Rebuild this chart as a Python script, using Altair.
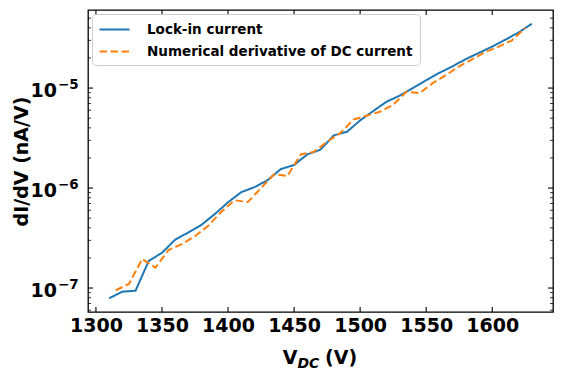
import altair as alt
import numpy as np
import pandas as pd

# ---- data ----
lockin_v = [1310, 1320, 1330, 1340, 1350, 1360, 1370, 1380, 1390, 1400, 1410,
            1420, 1430, 1440, 1450, 1460, 1470, 1480, 1490, 1500, 1510, 1520,
            1530, 1540, 1550, 1560, 1570, 1580, 1590, 1600, 1610, 1620, 1630]
lockin_g = [7.9e-8, 9.2e-8, 9.4e-8, 1.87e-7, 2.25e-7, 3.05e-7, 3.6e-7, 4.3e-7,
            5.5e-7, 7.2e-7, 9.1e-7, 1.02e-6, 1.2e-6, 1.55e-6, 1.7e-6, 2.17e-6,
            2.42e-6, 3.36e-6, 3.65e-6, 4.75e-6, 5.9e-6, 7.3e-6, 8.4e-6, 1.0e-5,
            1.2e-5, 1.42e-5, 1.65e-5, 1.95e-5, 2.25e-5, 2.6e-5, 3.05e-5, 3.6e-5,
            4.4e-5]
deriv_v = [1315, 1325, 1335, 1345, 1355, 1365, 1375, 1385, 1395, 1405, 1415,
           1425, 1435, 1445, 1455, 1465, 1475, 1485, 1495, 1505, 1515, 1525,
           1535, 1545, 1555, 1565, 1575, 1585, 1595, 1605, 1615, 1625]
deriv_g = [9.5e-8, 1.1e-7, 1.95e-7, 1.6e-7, 2.4e-7, 2.75e-7, 3.3e-7, 4.2e-7,
           5.8e-7, 7.55e-7, 7.25e-7, 1.0e-6, 1.38e-6, 1.32e-6, 2.17e-6, 2.3e-6,
           2.9e-6, 3.55e-6, 4.85e-6, 5.3e-6, 5.8e-6, 6.8e-6, 9.2e-6, 8.9e-6,
           1.12e-5, 1.35e-5, 1.65e-5, 1.95e-5, 2.3e-5, 2.6e-5, 3.0e-5, 4.0e-5]
series_names = ["Lock-in current", "Numerical derivative of DC current"]
series_colors = ["#1f77b4", "#ff7f0e"]

x_ticks = [1300, 1350, 1400, 1450, 1500, 1550, 1600]
y_major = [1e-7, 1e-6, 1e-5]
y_major_base = ["10", "10", "10"]
y_major_exp = ["\u22127", "\u22126", "\u22125"]
y_minor = [6e-8, 7e-8, 8e-8, 9e-8,
           2e-7, 3e-7, 4e-7, 5e-7, 6e-7, 7e-7, 8e-7, 9e-7,
           2e-6, 3e-6, 4e-6, 5e-6, 6e-6, 7e-6, 8e-6, 9e-6,
           2e-5, 3e-5, 4e-5, 5e-5]

# ---- tables ----
df = pd.concat([
    pd.DataFrame({"V": lockin_v, "G": lockin_g, "series": series_names[0]}),
    pd.DataFrame({"V": deriv_v, "G": deriv_g, "series": series_names[1]}),
])

W, H = 465, 302
FONT = "DejaVu Sans"

xmin, xmax = min(lockin_v + deriv_v), max(lockin_v + deriv_v)
xm = 0.05 * (xmax - xmin)
x_dom = [xmin - xm, xmax + xm]
lmin, lmax = np.log10(min(lockin_g + deriv_g)), np.log10(max(lockin_g + deriv_g))
lm = 0.05 * (lmax - lmin)
y_dom = [float(10 ** (lmin - lm)), float(10 ** (lmax + lm))]

xs = alt.Scale(domain=x_dom, nice=False, zero=False)
ys = alt.Scale(type="log", domain=y_dom, nice=False)

x_axis = alt.Axis(
    values=x_ticks, title=None, tickSize=0, domain=False, grid=False,
    labelFont=FONT, labelFontSize=19, labelFontWeight="bold",
    labelColor="black", labelPadding=4, format="d")
y_axis = alt.Axis(
    values=y_major, tickSize=0, domain=False, grid=False, labels=False,
    title="dI/dV (nA/V)", titleFont=FONT, titleFontSize=19,
    titleFontWeight="bold", titleColor="black",
    titleX=-67, titleY=H / 2, titleAngle=270, titleAlign="center",
    titleBaseline="middle")

legend = alt.Legend(
    title=None, orient="none", legendX=4, legendY=4,
    symbolType="M-2,0H2", symbolSize=225, symbolStrokeWidth=2,
    symbolOffset=7, labelOffset=24, labelLimit=500,
    labelFont=FONT, labelFontSize=13.5, labelFontWeight="bold", labelColor="black",
    padding=7, rowPadding=7,
    strokeColor="#cccccc", fillColor="rgba(255,255,255,0.8)", cornerRadius=4,
)

lines = alt.Chart(df).mark_line(strokeWidth=2).encode(
    x=alt.X("V:Q", scale=xs, axis=x_axis),
    y=alt.Y("G:Q", scale=ys, axis=y_axis),
    color=alt.Color("series:N", scale=alt.Scale(domain=series_names, range=series_colors), legend=legend),
    strokeDash=alt.StrokeDash("series:N", scale=alt.Scale(domain=series_names, range=[[1, 0], [7.5, 3.5]]), legend=legend),
    order=alt.Order("V:Q"),
)

ymaj = pd.DataFrame({"G": y_major, "base": y_major_base, "exp": y_major_exp})
ymin = pd.DataFrame({"G": y_minor})
xmaj = pd.DataFrame({"V": x_ticks})

def yticks(data, length, width):
    left = alt.Chart(data).mark_rule(color="black", strokeWidth=width).encode(
        y=alt.Y("G:Q", scale=ys, axis=y_axis), x=alt.value(0), x2=alt.value(length))
    right = alt.Chart(data).mark_rule(color="black", strokeWidth=width).encode(
        y=alt.Y("G:Q", scale=ys, axis=y_axis), x=alt.value(W), x2=alt.value(W - length))
    return [left, right]

def xticks(data, length, width):
    bot = alt.Chart(data).mark_rule(color="black", strokeWidth=width).encode(
        x=alt.X("V:Q", scale=xs, axis=x_axis), y=alt.value(H), y2=alt.value(H - length))
    top = alt.Chart(data).mark_rule(color="black", strokeWidth=width).encode(
        x=alt.X("V:Q", scale=xs, axis=x_axis), y=alt.value(0), y2=alt.value(length))
    return [bot, top]

# y tick labels as 10 with a raised exponent
ylab_base = alt.Chart(ymaj).mark_text(
    font=FONT, fontSize=19, fontWeight="bold", color="black",
    align="right", baseline="alphabetic", dy=9).encode(
    y=alt.Y("G:Q", scale=ys, axis=y_axis), x=alt.value(-31), text="base:N")
ylab_exp = alt.Chart(ymaj).mark_text(
    font=FONT, fontSize=13.5, fontWeight="bold", color="black",
    align="left", baseline="alphabetic", dy=1).encode(
    y=alt.Y("G:Q", scale=ys, axis=y_axis), x=alt.value(-30), text="exp:N")

one = alt.Data(values=[{"k": 1}])
tx = W / 2 - 37.8
title_parts = [
    alt.Chart(one).mark_text(text="V", font=FONT, fontSize=19, fontWeight="bold",
                             align="left", baseline="alphabetic", color="black")
    .encode(x=alt.value(tx), y=alt.value(354)),
    alt.Chart(one).mark_text(text="DC", font=FONT, fontSize=14, fontWeight="bold",
                             fontStyle="italic", align="left", baseline="alphabetic", color="black")
    .encode(x=alt.value(tx + 14.7), y=alt.value(357.5)),
    alt.Chart(one).mark_text(text="(V)", font=FONT, fontSize=19, fontWeight="bold",
                             align="left", baseline="alphabetic", color="black")
    .encode(x=alt.value(tx + 42.3), y=alt.value(354)),
]

chart = alt.layer(
    lines,
    *yticks(ymaj[["G"]], 5, 1.1), *yticks(ymin, 3, 0.8),
    *xticks(xmaj, 5, 1.1),
    ylab_base, ylab_exp,
    *title_parts,
).properties(
    width=W, height=H, background="white",
    autosize=alt.AutoSizeParams(type="none"),
    padding={"left": 80, "top": 2, "right": 3, "bottom": 59},
).configure_view(
    stroke="black", strokeWidth=1.3
)

chart.save("out.html", embed_options={"renderer": "svg", "actions": False})
